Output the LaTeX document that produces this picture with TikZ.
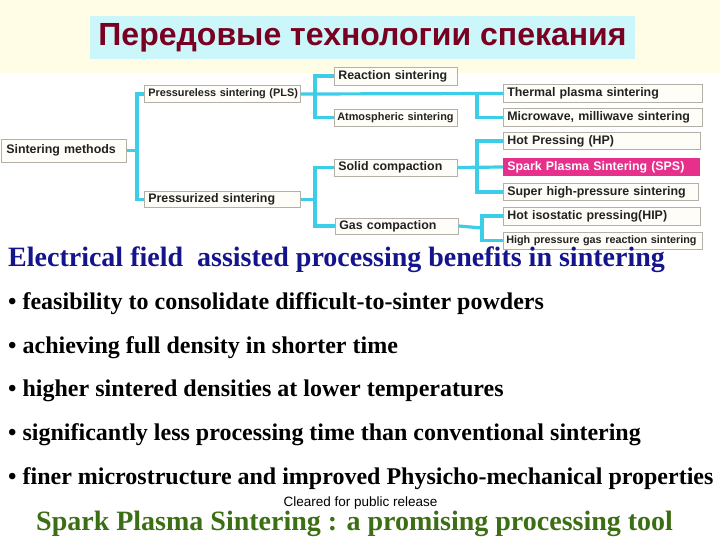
\documentclass[tikz,border=0pt]{standalone}
\usepackage{fontspec}
\setmainfont{Liberation Serif}
\setsansfont{Liberation Sans}
\definecolor{bandyellow}{HTML}{FFFDE6}
\definecolor{titlecyan}{HTML}{CCF7FA}
\definecolor{titlered}{HTML}{7A0022}
\definecolor{connblue}{HTML}{3CCDE8}
\definecolor{boxfill}{HTML}{FFFDF7}
\definecolor{boxedge}{HTML}{B4B0A8}
\definecolor{boxtext}{HTML}{222222}
\definecolor{spsmag}{HTML}{E6308C}
\definecolor{headblue}{HTML}{14148C}
\definecolor{footgreen}{HTML}{3C6E14}
\begin{document}
\begin{tikzpicture}[x=1pt,y=-1pt,
  box/.style={draw=boxedge, line width=0.6pt, fill=boxfill, text=boxtext,
    font=\sffamily\bfseries\fontsize{12.4}{14}\selectfont, inner xsep=4pt, inner ysep=0pt,
    anchor=west, align=left},
  conn/.style={draw=connblue, line width=3.2pt},
  bullet/.style={anchor=base west, inner sep=0pt, font=\bfseries\fontsize{24}{28}\selectfont}]
\useasboundingbox (0,0) rectangle (720,540);
\fill[white] (0,0) rectangle (720,540);
\fill[bandyellow] (0,0) rectangle (720,73);
% title
\node[fill=titlecyan, minimum width=545pt, minimum height=43pt, inner sep=0pt,
  font=\sffamily\bfseries\fontsize{32}{36}\selectfont, text=titlered] (title) at (362.5,38)
  {Передовые технологии спекания};
% boxes
\node[box, minimum width=124pt, minimum height=23pt, text width=115pt, inner xsep=5pt] (sm) at (1,150.5) {Sintering methods};
\node[box, minimum width=156pt, minimum height=17pt, text width=148pt, font=\sffamily\bfseries\fontsize{10.9}{12}\selectfont] (pls) at (144,94) {\mbox{Pressureless sintering (PLS)}};
\node[box, minimum width=156pt, minimum height=16pt, text width=148pt] (ps) at (144,199.5) {Pressurized sintering};
\node[box, minimum width=123pt, minimum height=18pt, text width=115pt] (rs) at (334,76) {Reaction sintering};
\node[box, minimum width=123pt, minimum height=17pt, text width=119pt, inner xsep=2pt, font=\sffamily\bfseries\fontsize{10.9}{12}\selectfont] (as) at (334,117.5) {\mbox{\hspace{1pt}Atmospheric sintering}};
\node[box, minimum width=123pt, minimum height=17pt, text width=115pt] (sc) at (334,167.5) {Solid compaction};
\node[box, minimum width=123pt, minimum height=16pt, text width=115pt] (gc) at (335,226) {Gas compaction};
\node[box, minimum width=199pt, minimum height=18pt, text width=191pt] (tps) at (503,93.5) {Thermal plasma sintering};
\node[box, minimum width=199pt, minimum height=18pt, text width=191pt] (mw) at (503,117.5) {Microwave, milliwave sintering};
\node[box, minimum width=197pt, minimum height=17pt, text width=189pt] (hp) at (503,141) {Hot Pressing (HP)};
\node[box, minimum width=196pt, minimum height=17pt, text width=188pt, fill=spsmag, draw=spsmag, text=white] (sps) at (503,167) {Spark Plasma Sintering (SPS)};
\node[box, minimum width=195pt, minimum height=17pt, text width=187pt] (shp) at (503,192) {Super high-pressure sintering};
\node[box, minimum width=197pt, minimum height=18pt, text width=189pt] (hip) at (503,216) {Hot isostatic pressing(HIP)};
\node[box, minimum width=199pt, minimum height=17pt, text width=195pt, inner xsep=2pt, font=\sffamily\bfseries\fontsize{10.8}{12}\selectfont] (hgr) at (503,240.5) {\mbox{\hspace{1pt}High pressure gas reaction sintering}};
% junctions
\coordinate (j1) at (137,150.5);
\coordinate (j2) at (315,94);
\coordinate (j3) at (477,94);
\coordinate (j4) at (315,199.5);
\coordinate (j5) at (477,167);
\coordinate (j6) at (482,228);
% connectors
\draw[conn] (sm.east) -- (j1);
\draw[conn] (pls.west) -| (j1) |- (ps.west);
\draw[conn] (rs.west) -| (j2) |- (as.west);
\draw[conn] (pls.east) -- (tps.west);
\draw[conn] (j3) |- (mw.west);
\draw[conn] (ps.east) -- (j4);
\draw[conn] (sc.west) -| (j4) |- (gc.west);
\draw[conn] (sc.east) -- (sps.west);
\draw[conn] (hp.west) -| (j5) |- (shp.west);
\draw[conn] (gc.east) -- (j6);
\draw[conn] (hip.west) -| (j6) |- (hgr.west);
% texts
\node[anchor=base west, inner sep=0pt, font=\bfseries\fontsize{28}{32}\selectfont, text=headblue] (head) at (8,266)
  {Electrical field\ \ assisted processing benefits in sintering};
\node[bullet] (b1) at (8,309) {• feasibility to consolidate difficult-to-sinter powders};
\node[bullet] (b2) at (8,353) {• achieving full density in shorter time};
\node[bullet] (b3) at (8,396) {• higher sintered densities at lower temperatures};
\node[bullet] (b4) at (8,440) {• significantly less processing time than conventional sintering};
\node[bullet] (b5) at (8,484) {• finer microstructure and improved Physicho-mechanical properties};
\node[anchor=base, inner sep=0pt, font=\sffamily\fontsize{13.5}{15}\selectfont] (clr) at (360.5,506) {Cleared for public release};
\node[anchor=base west, inner sep=0pt, font=\bfseries\fontsize{28}{32}\selectfont, text=footgreen] (foot) at (36,530)
  {Spark Plasma Sintering : a promising processing tool};
\end{tikzpicture}
\end{document}
